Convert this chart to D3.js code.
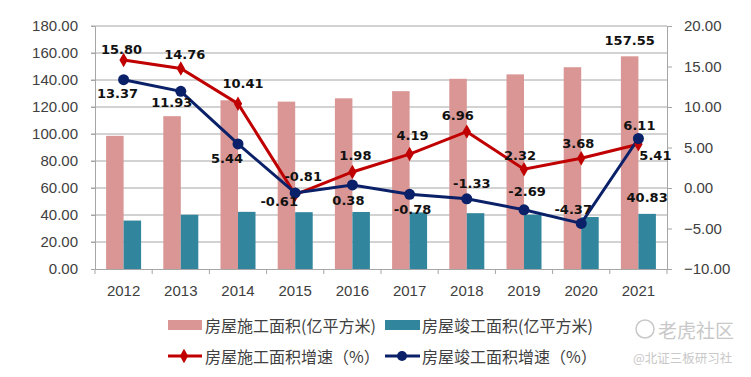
<!DOCTYPE html>
<html><head><meta charset="utf-8">
<script src="https://cdn.jsdelivr.net/npm/d3@7"></script>
<style>body{margin:0;background:#fff}svg{display:block}</style>
</head><body>
<svg id="c" width="751" height="377"></svg>
<script>
const years = ["2012","2013","2014","2015","2016","2017","2018","2019","2020","2021"];
const constructionArea = [98.64,113.20,124.98,123.97,126.42,131.72,140.89,144.16,149.46,157.55];
const completedArea = [35.88,40.16,42.34,42.08,42.24,41.91,41.35,40.24,38.48,40.83];
const constructionGrowth = [15.80,14.76,10.41,-0.81,1.98,4.19,6.96,2.32,3.68,5.41];
const completedGrowth = [13.37,11.93,5.44,-0.61,0.38,-0.78,-1.33,-2.69,-4.37,6.11];
const leftTicks = [0,20,40,60,80,100,120,140,160,180];
const rightTicks = [-10,-5,0,5,10,15,20];
const legendNames = ["房屋施工面积(亿平方米)","房屋竣工面积(亿平方米)","房屋施工面积增速（%）","房屋竣工面积增速（%）"];

// label placement offsets (layout only)
const redLabelOff = [[-2,-11],[4,-14],[5,-20],[8,-18],[3,-16],[3,-19],[-9,-16],[-4,-14],[-3,-15],[17,11]];
const blueLabelOff = [[-6,14],[-9,11],[-11,15],[-16,9],[-4,16],[3,15],[5,-15],[3,-18],[-8,-14],[1,-13]];

const svg = d3.select("#c");
const L = 95, R = 667, T = 26, B = 269;
const x = d3.scaleBand().domain(years).range([L, R]).padding(0);
const yL = d3.scaleLinear().domain([0,180]).range([B,T]);
const yR = d3.scaleLinear().domain([-10,20]).range([B,T]);
const gridC = "#a6a6a6", textC = "#404040";
const pink = "#d99694", teal = "#31859c", red = "#c00000", navy = "#0a2068";

// gridlines
svg.append("g").selectAll("line").data(leftTicks.filter(d=>d>0)).join("line")
  .attr("x1", L-4).attr("x2", R).attr("y1", d=>yL(d)).attr("y2", d=>yL(d))
  .attr("stroke", gridC).attr("stroke-width", 1);

// left axis
const gl = svg.append("g").attr("transform",`translate(${L},0)`)
  .call(d3.axisLeft(yL).tickValues(leftTicks).tickFormat(d3.format(".2f")).tickSize(4).tickPadding(13));
const gr = svg.append("g").attr("transform",`translate(${R},0)`)
  .call(d3.axisRight(yR).tickValues(rightTicks).tickFormat(d3.format(".2f")).tickSize(5).tickPadding(12));
const gb = svg.append("g").attr("transform",`translate(0,${B})`)
  .call(d3.axisBottom(x).tickSize(0).tickPadding(16));
// bottom category boundary ticks
svg.append("g").selectAll("line").data(years.concat(["end"])).join("line")
  .attr("x1",(d,i)=>L + i*x.step()).attr("x2",(d,i)=>L + i*x.step())
  .attr("y1",B).attr("y2",B+5).attr("stroke",gridC);
[gl,gr,gb].forEach(g=>{
  g.selectAll("path.domain").attr("stroke",gridC);
  g.selectAll(".tick line").attr("stroke",gridC);
  g.selectAll("text").attr("fill",textC).style("font-family","'Liberation Sans',Arial,sans-serif").style("font-size","15px");
});

// bars
const bw = 17.5;
svg.append("g").selectAll("rect").data(constructionArea).join("rect")
  .attr("x",(d,i)=>x(years[i])+x.bandwidth()/2-bw).attr("width",bw)
  .attr("y",d=>yL(d)).attr("height",d=>B-yL(d)).attr("fill",pink);
svg.append("g").selectAll("rect").data(completedArea).join("rect")
  .attr("x",(d,i)=>x(years[i])+x.bandwidth()/2).attr("width",bw)
  .attr("y",d=>yL(d)).attr("height",d=>B-yL(d)).attr("fill",teal);

const cx = i => x(years[i]) + x.bandwidth()/2;
const line = d3.line().x((d,i)=>cx(i)).y(d=>yR(d));
svg.append("path").datum(constructionGrowth).attr("d",line).attr("fill","none").attr("stroke",red).attr("stroke-width",3);
svg.append("path").datum(completedGrowth).attr("d",line).attr("fill","none").attr("stroke",navy).attr("stroke-width",3);

const diamond = d3.symbol().type(d3.symbolDiamond).size(60);
svg.append("g").selectAll("path").data(constructionGrowth).join("path")
  .attr("d",diamond).attr("transform",(d,i)=>`translate(${cx(i)},${yR(d)})`).attr("fill",red);
svg.append("g").selectAll("circle").data(completedGrowth).join("circle")
  .attr("cx",(d,i)=>cx(i)).attr("cy",d=>yR(d)).attr("r",5.5).attr("fill",navy);

const lblFont = "'DejaVu Sans',Verdana,sans-serif";
function labels(data, off, yfn, xfn){
  svg.append("g").selectAll("text").data(data).join("text")
    .attr("x",(d,i)=>xfn(i)+off[i][0]).attr("y",(d,i)=>yfn(d)+off[i][1])
    .attr("text-anchor","middle").attr("dominant-baseline","central")
    .style("font-family",lblFont).style("font-weight","bold").style("font-size","13px")
    .attr("fill","#111").text(d=>d.toFixed(2));
}
labels(constructionGrowth, redLabelOff, yR, cx);
labels(completedGrowth, blueLabelOff, yR, cx);
// bar labels for last year
const last = years.length-1;
labels([constructionArea[last]], [[0,-16]], yL, ()=>cx(last)-bw/2);
labels([completedArea[last]], [[0,-16]], yL, ()=>cx(last)+bw/2);

// legend
const lg = svg.append("g").style("font-family","'Noto Sans CJK SC',sans-serif").style("font-size","16px");
lg.append("rect").attr("x",168).attr("y",320).attr("width",34).attr("height",10).attr("fill",pink);
lg.append("text").attr("x",205).attr("y",325).attr("dominant-baseline","central").attr("fill",textC).text(legendNames[0]);
lg.append("rect").attr("x",385).attr("y",320).attr("width",35).attr("height",10).attr("fill",teal);
lg.append("text").attr("x",422).attr("y",325).attr("dominant-baseline","central").attr("fill",textC).text(legendNames[1]);
lg.append("line").attr("x1",168).attr("x2",202).attr("y1",356).attr("y2",356).attr("stroke",red).attr("stroke-width",3);
lg.append("path").attr("d",diamond).attr("transform","translate(184,356)").attr("fill",red);
lg.append("text").attr("x",205).attr("y",356).attr("dominant-baseline","central").attr("fill",textC).text(legendNames[2]);
lg.append("line").attr("x1",385).attr("x2",420).attr("y1",356).attr("y2",356).attr("stroke",navy).attr("stroke-width",3);
lg.append("circle").attr("cx",402).attr("cy",356).attr("r",5).attr("fill",navy);
lg.append("text").attr("x",422).attr("y",356).attr("dominant-baseline","central").attr("fill",textC).text(legendNames[3]);

// watermark
const wm = svg.append("g").attr("fill","#c8c8c8").style("font-family","'Noto Sans CJK SC',sans-serif");
wm.append("circle").attr("cx",645).attr("cy",329).attr("r",9).attr("fill","none").attr("stroke","#c8c8c8").attr("stroke-width",1.5);
wm.append("text").attr("x",658).attr("y",329).attr("dominant-baseline","central").style("font-size","19px").text("老虎社区");
wm.append("text").attr("x",633).attr("y",357).attr("dominant-baseline","central").style("font-size","12.5px").text("@北证三板研习社");
</script>
</body></html>
